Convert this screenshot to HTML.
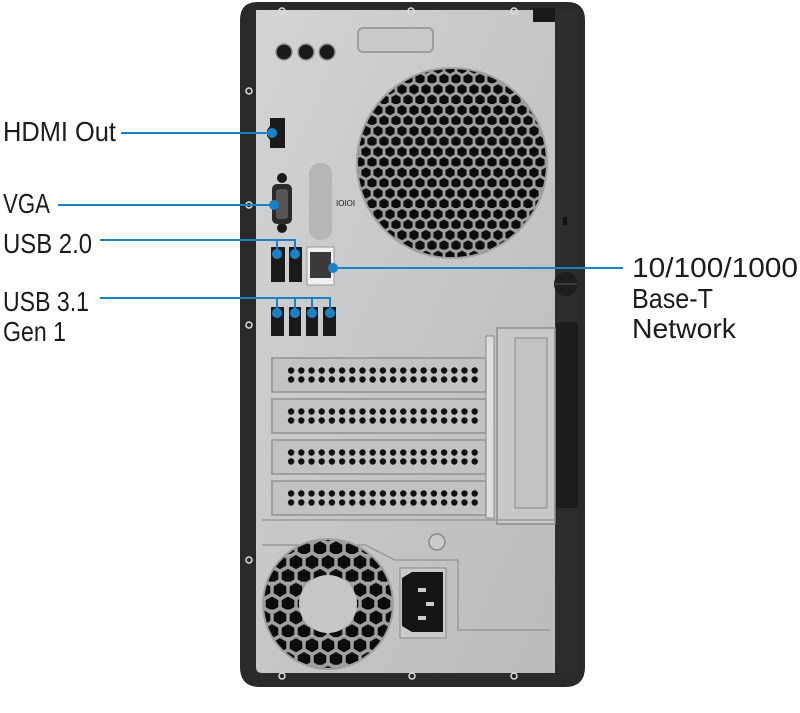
<!DOCTYPE html>
<html><head><meta charset="utf-8"><style>
html,body{margin:0;padding:0;background:#fff;}
svg{display:block;}
text{font-family:"Liberation Sans",sans-serif;fill:#1c1c1c;font-size:28px;}
</style></head><body>
<svg width="800" height="713" viewBox="0 0 800 713">
<defs>
<pattern id="hex" patternUnits="userSpaceOnUse" width="12" height="20.8" x="0" y="0">
<polygon points="6,1 10.6,3.6 10.6,8.8 6,11.4 1.4,8.8 1.4,3.6" fill="#0c0c0c"/>
<polygon points="0,11.4 4.6,14 4.6,19.2 0,21.8 -4.6,19.2 -4.6,14" fill="#0c0c0c"/>
<polygon points="12,11.4 16.6,14 16.6,19.2 12,21.8 7.4,19.2 7.4,14" fill="#0c0c0c"/>
</pattern>
<pattern id="hex2" patternUnits="userSpaceOnUse" width="16" height="27.7">
<polygon points="8,1 14.3,4.6 14.3,11.6 8,15.2 1.7,11.6 1.7,4.6" fill="#0c0c0c"/>
<polygon points="0,14.8 6.3,18.4 6.3,25.4 0,29 -6.3,25.4 -6.3,18.4" fill="#0c0c0c"/>
<polygon points="16,14.8 22.3,18.4 22.3,25.4 16,29 9.7,25.4 9.7,18.4" fill="#0c0c0c"/>
</pattern>
<pattern id="dots" patternUnits="userSpaceOnUse" width="10.2" height="9" x="0" y="0">
<circle cx="5.1" cy="4.5" r="3.2" fill="#111"/>
</pattern>
<linearGradient id="metal" x1="0" y1="0" x2="1" y2="1">
<stop offset="0" stop-color="#d2d4d6"/><stop offset="0.5" stop-color="#c4c6c8"/><stop offset="1" stop-color="#b9bbbd"/>
</linearGradient>
</defs>

<path d="M240,20 Q240,2 258,2 L567,2 Q585,2 585,20 L585,667 Q585,687 565,687 L260,687 Q240,687 240,667 Z" fill="#2a2a2a"/>
<path d="M256,10 L555,10 L555,673 L262,673 Q256,673 256,667 Z" fill="url(#metal)"/>
<rect x="555" y="10" width="22" height="663" fill="#2d2d2d"/>
<rect x="556" y="322" width="22" height="186" rx="3" fill="#1d1d1d"/>
<rect x="533" y="8" width="22" height="14" fill="#1a1a1a"/>
<circle cx="566" cy="284" r="12" fill="#1e1e1e"/>
<line x1="555" y1="284" x2="577" y2="284" stroke="#444" stroke-width="1.5"/>
<rect x="563" y="217" width="4" height="8" fill="#111"/>
<g fill="none" stroke="#ddd" stroke-width="1.5">
<circle cx="282" cy="11" r="3"/><circle cx="411" cy="11" r="3"/><circle cx="514" cy="11" r="3"/>
<circle cx="249" cy="91" r="3"/><circle cx="249" cy="205" r="3"/><circle cx="249" cy="325" r="3"/><circle cx="249" cy="560" r="3"/>
<circle cx="282" cy="676" r="3"/><circle cx="412" cy="676" r="3"/><circle cx="514" cy="676" r="3"/>
</g>

<rect x="358" y="28" width="75" height="24" rx="5" fill="#c8cacc" stroke="#9a9c9e" stroke-width="2"/>
<g fill="#1a1a1a" stroke="#8d8f91" stroke-width="1.5">
<circle cx="284" cy="52" r="8"/><circle cx="306" cy="52" r="8"/><circle cx="327" cy="52" r="8"/>
</g>
<circle cx="452" cy="163" r="96" fill="#9ea0a2"/>
<circle cx="452" cy="163" r="94" fill="url(#hex)"/>
<path d="M270,118 L285,118 L285,148 L270,148 L270,140 L267,136 L267,130 L270,126 Z" fill="#1a1a1a"/>
<circle cx="282" cy="178" r="5" fill="#1a1a1a"/><circle cx="282" cy="228" r="5" fill="#1a1a1a"/>
<rect x="272" y="184" width="20" height="40" rx="5" fill="#2a2a2a"/>
<rect x="276" y="189" width="12" height="30" rx="3" fill="#555"/>
<rect x="309" y="163" width="23" height="77" rx="11" fill="#b4b6b8"/>
<text x="336" y="206" style="font-size:8px">IOIOI</text>
<rect x="271" y="247" width="14" height="35" fill="#1a1a1a"/>
<rect x="289" y="247" width="13" height="35" fill="#1a1a1a"/>
<rect x="307" y="247" width="27" height="38" fill="#f0f0f0" stroke="#999" stroke-width="1"/>
<rect x="310" y="252" width="21" height="26" fill="#3a3a3a"/>
<rect x="271" y="307" width="13" height="29" fill="#1a1a1a"/>
<rect x="289" y="307" width="12" height="29" fill="#1a1a1a"/>
<rect x="306" y="307" width="12" height="29" fill="#1a1a1a"/>
<rect x="323" y="307" width="13" height="29" fill="#1a1a1a"/>

<g fill="#c0c2c4" stroke="#8f9193" stroke-width="1.5">
<rect x="272" y="358" width="214" height="34"/>
<rect x="272" y="399" width="214" height="34"/>
<rect x="272" y="440" width="214" height="34"/>
<rect x="272" y="481" width="214" height="34"/>
</g>
<g transform="translate(286,366)"><rect x="0" y="0" width="194" height="18" fill="url(#dots)"/></g>
<g transform="translate(286,407)"><rect x="0" y="0" width="194" height="18" fill="url(#dots)"/></g>
<g transform="translate(286,448)"><rect x="0" y="0" width="194" height="18" fill="url(#dots)"/></g>
<g transform="translate(286,489)"><rect x="0" y="0" width="194" height="18" fill="url(#dots)"/></g>
<rect x="486" y="336" width="8" height="182" fill="#dcdedf" stroke="#888" stroke-width="1"/>
<rect x="497" y="328" width="58" height="196" fill="#c6c8ca" stroke="#8a8c8e" stroke-width="1.5"/>
<rect x="515" y="338" width="32" height="170" fill="#c0c2c4" stroke="#888" stroke-width="1"/>

<path d="M262,520 L555,520 M262,545 L365,545 L395,560 L458,560 L458,630 L550,630" stroke="#999" stroke-width="1.5" fill="none"/>
<circle cx="328" cy="604" r="66" fill="#9ea0a2"/>
<circle cx="328" cy="604" r="64" fill="url(#hex2)"/>
<circle cx="328" cy="604" r="29" fill="#c4c6c8"/>
<circle cx="437" cy="542" r="8" fill="#c8cacc" stroke="#888" stroke-width="1.5"/>
<rect x="400" y="568" width="46" height="70" fill="#c8cacc" stroke="#888"/>
<path d="M402,578 L412,572 L443,572 L443,632 L412,632 L402,626 Z" fill="#151515"/>
<rect x="418" y="588" width="8" height="4" fill="#ccc"/><rect x="426" y="602" width="8" height="4" fill="#ccc"/><rect x="418" y="616" width="8" height="4" fill="#ccc"/>

<g stroke="#1a82c4" stroke-width="2" fill="none">
<line x1="121" y1="133" x2="272" y2="133"/>
<line x1="58" y1="205" x2="274" y2="205"/>
<polyline points="100,240 295,240 295,253"/><line x1="277" y1="240" x2="277" y2="253"/>
<polyline points="100,298 330,298 330,312"/>
<line x1="277" y1="298" x2="277" y2="312"/><line x1="295" y1="298" x2="295" y2="312"/><line x1="312" y1="298" x2="312" y2="312"/>
<line x1="333" y1="268" x2="623" y2="268"/>
</g>
<g fill="#1a82c4">
<circle cx="272" cy="133" r="5"/><circle cx="274" cy="205" r="5"/>
<circle cx="277" cy="254" r="5"/><circle cx="295" cy="254" r="5"/>
<circle cx="277" cy="313" r="5"/><circle cx="295" cy="313" r="5"/><circle cx="312" cy="313" r="5"/><circle cx="330" cy="313" r="5"/>
<circle cx="333" cy="268" r="5"/>
</g>

<text x="3" y="141" textLength="113" lengthAdjust="spacingAndGlyphs">HDMI Out</text>
<text x="3" y="213" textLength="47" lengthAdjust="spacingAndGlyphs">VGA</text>
<text x="3" y="253" textLength="89" lengthAdjust="spacingAndGlyphs">USB 2.0</text>
<text x="3" y="311" textLength="86" lengthAdjust="spacingAndGlyphs">USB 3.1</text>
<text x="3" y="341" textLength="63" lengthAdjust="spacingAndGlyphs">Gen 1</text>
<text x="632" y="277" textLength="166" lengthAdjust="spacingAndGlyphs">10/100/1000</text>
<text x="632" y="308" textLength="81" lengthAdjust="spacingAndGlyphs">Base-T</text>
<text x="632" y="338" textLength="104" lengthAdjust="spacingAndGlyphs">Network</text>
</svg>
</body></html>
